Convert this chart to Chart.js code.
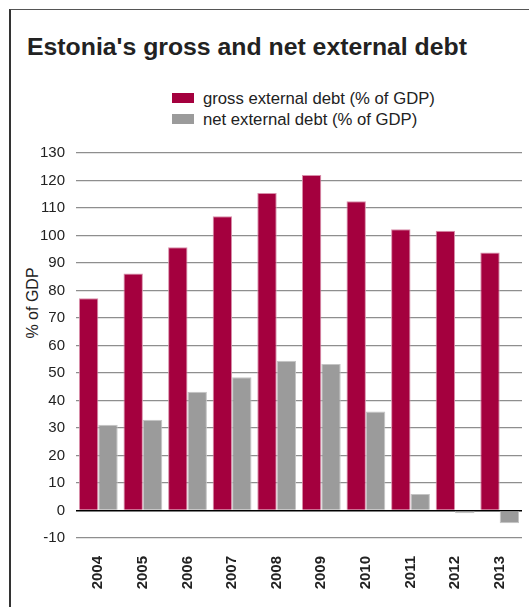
<!DOCTYPE html>
<html>
<head>
<meta charset="utf-8">
<script src="https://cdn.jsdelivr.net/npm/chart.js@4"></script>
<style>
    html, body { margin: 0; padding: 0; background: #fff; }
    body { width: 529px; height: 607px; position: relative; overflow: hidden; font-family: "Liberation Sans", Arial, sans-serif; color: #222; }
    #myChart { position: absolute; left: 0; top: 0; }
    .frame { position: absolute; left: 9px; top: 9px; width: 540px; height: 620px; border-top: 1px solid #555; border-left: 2px solid #333; }
    .title { position: absolute; left: 27px; top: 33px; font-size: 24.8px; font-weight: bold; white-space: nowrap; color: #222; }
    .legend { position: absolute; left: 172px; top: 88px; font-size: 16.7px; }
    .legend-item { height: 21px; line-height: 21px; white-space: nowrap; }
    .legend-box { display: inline-block; width: 22px; height: 10px; margin-right: 9px; vertical-align: 1px; }
    .y-title { position: absolute; left: 33px; top: 303px; transform: translate(-50%, -50%) rotate(-90deg); font-size: 16px; white-space: nowrap; }
</style>
</head>
<body>
<div class="frame"></div>
<div class="title">Estonia's gross and net external debt</div>
<div class="legend" id="legend"></div>
<div class="y-title">% of GDP</div>
<canvas id="myChart" width="529" height="607"></canvas>
<script>
// Yearly debt figures, % of GDP
const years = ['2004', '2005', '2006', '2007', '2008', '2009', '2010', '2011', '2012', '2013'];
const grossDebt = [77.2, 86.2, 95.7, 107, 115.5, 122, 112.5, 102.3, 101.7, 93.8];
const netDebt = [31.2, 33, 43.2, 48.5, 54.5, 53.3, 36, 6, -1, -4.6];
const seriesNames = ['gross external debt (% of GDP)', 'net external debt (% of GDP)'];
const yMin = -10;
const yMax = 130;
const yStep = 10;

const grossColor = '#a4003e';
const netColor = '#9b9b9b';

// Legend sits above the plot, one row per series
const legend = document.getElementById('legend');
[grossColor, netColor].forEach((color, i) => {
    const row = document.createElement('div');
    row.className = 'legend-item';
    row.innerHTML = `<span class="legend-box" style="background:${color}"></span>${seriesNames[i]}`;
    legend.appendChild(row);
});

const ctx = document.getElementById('myChart').getContext('2d');
const myChart = new Chart(ctx, {
    type: 'bar',
    data: {
        labels: years,
        datasets: [{
            label: seriesNames[0],
            data: grossDebt,
            backgroundColor: grossColor,
            borderColor: '#d98fab',
            borderWidth: 1,
            categoryPercentage: 0.87,
            barPercentage: 1
        }, {
            label: seriesNames[1],
            data: netDebt,
            backgroundColor: netColor,
            borderColor: '#c4c4c4',
            borderWidth: 1,
            categoryPercentage: 0.87,
            barPercentage: 1
        }]
    },
    options: {
        responsive: false,
        animation: false,
        devicePixelRatio: 1,
        layout: {
            padding: { top: 153, left: 0, right: 7, bottom: 0 }
        },
        plugins: {
            legend: { display: false },
            title: { display: false },
            tooltip: { enabled: false }
        },
        scales: {
            x: {
                afterFit(scale) { scale.height = 69; },
                grid: { display: false },
                border: { display: false },
                ticks: {
                    minRotation: 90,
                    maxRotation: 90,
                    padding: 10,
                    color: '#222',
                    font: { family: 'Liberation Sans', size: 15, weight: 'bold' }
                }
            },
            y: {
                min: yMin,
                max: yMax,
                afterFit(scale) { scale.width = 76; },
                border: { display: false },
                grid: {
                    drawTicks: false,
                    color: c => c.tick.value === 0 ? '#000' : '#8e8e8e',
                    lineWidth: c => c.tick.value === 0 ? 1.5 : 1.2
                },
                ticks: {
                    stepSize: yStep,
                    padding: 11,
                    color: '#222',
                    font: { family: 'Liberation Sans', size: 15 }
                }
            }
        }
    }
});
</script>
</body>
</html>
